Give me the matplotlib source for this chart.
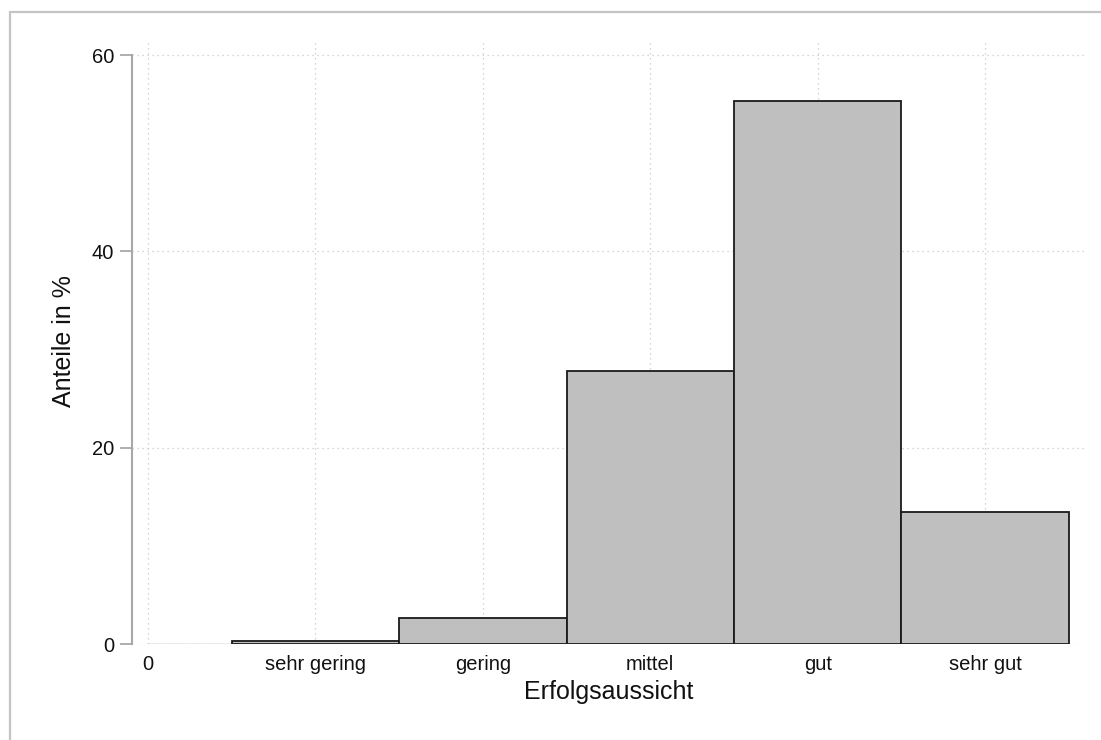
import matplotlib.pyplot as plt
from matplotlib.patches import Rectangle

categories = ['sehr gering', 'gering', 'mittel', 'gut', 'sehr gut']
positions = [1, 2, 3, 4, 5]
shares = [0.3, 2.62, 27.81, 55.31, 13.48]
xtick_pos = [0, 1, 2, 3, 4, 5]
xtick_labels = ['0'] + categories
ytick_pos = [0, 20, 40, 60]

plt.rcParams['font.family'] = ['Liberation Sans', 'DejaVu Sans']

W, H = 1101, 740
fig = plt.figure(figsize=(W / 100, H / 100), dpi=100)
fig.patch.set_facecolor('white')

# outer frame (cut off at right and bottom, like the reference)
fig.patches.append(Rectangle((10 / W, -0.05), 1.2, 1 - 12 / H + 0.05,
                             transform=fig.transFigure, fill=False,
                             edgecolor='#c4c4c4', linewidth=1.6))

ax = fig.add_axes([132 / W, 1 - 644 / H, (1085 - 132) / W, (644 - 39) / H])
ax.set_xlim(-0.0956, 5.597)
ax.set_ylim(0, 61.63)

ax.bar(positions, shares, width=1.0, color='#bfbfbf', edgecolor='#1a1a1a',
       linewidth=1.3, zorder=3)

# dotted grid
for x in xtick_pos:
    ax.axvline(x, color='#c8c8c8', linestyle=(0, (1, 3)), linewidth=0.9, zorder=1)
for y in ytick_pos:
    ax.axhline(y, color='#c8c8c8', linestyle=(0, (1, 3)), linewidth=0.9, zorder=1)

ax.plot([0, 5.5], [0, 0], color='#a0a0a0', linewidth=1.0, zorder=2)

for s in ['top', 'right', 'bottom']:
    ax.spines[s].set_visible(False)
ax.spines['left'].set_color('#a8a8a8')
ax.spines['left'].set_linewidth(1.5)
ax.spines['left'].set_bounds(0, 60)

ax.set_yticks(ytick_pos)
ax.tick_params(axis='y', length=9, width=1.3, color='#a8a8a8', pad=4,
               labelsize=14.5, labelcolor='#111111')
ax.set_xticks(xtick_pos)
ax.set_xticklabels(xtick_labels)
ax.tick_params(axis='x', length=0, pad=8, labelsize=14.5, labelcolor='#111111')

ax.set_xlabel('Erfolgsaussicht', fontsize=18, color='#111111', labelpad=4)
ax.set_ylabel('Anteile in %', fontsize=18, color='#111111', labelpad=11)

fig.savefig('out.png', dpi=100)
